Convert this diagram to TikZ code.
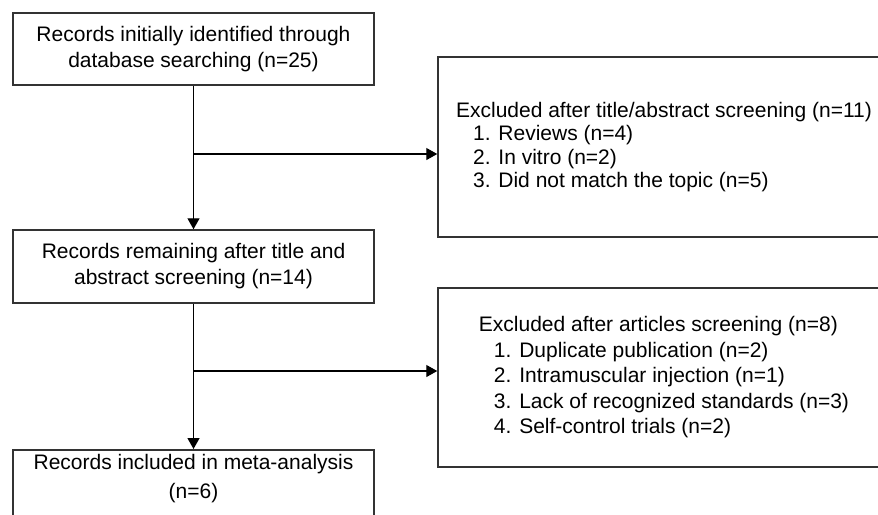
\documentclass[tikz,border=0pt]{standalone}
\usepackage{fontspec}
\setmainfont{Liberation Sans}
\usepackage{tikz}
\usetikzlibrary{arrows.meta}

\begin{document}
\begin{tikzpicture}[x=1pt, y=-1pt, >={Triangle[length=11pt, width=12pt]}, line width=1.3pt]

\useasboundingbox (0,0) rectangle (878,514);
\clip (0,0) rectangle (878,514);

\begin{scope}[every node/.style={rectangle, draw=black!80, line width=1.5pt, minimum width=361pt, align=center, font=\fontsize{21}{26}\selectfont}]
  \node[minimum height=72pt] (rec1) at (193.5,49) {Records initially identified through\\database searching (n=25)};
  \node[minimum height=73pt] (rec2) at (193.5,266.5) {Records remaining after title and\\abstract screening (n=14)};
  \node[anchor=north, inner ysep=5pt, text depth=24pt, font=\fontsize{21}{29}\selectfont] (rec3) at (193.5,449) {Records included in meta-analysis\\(n=6)};
\end{scope}

\begin{scope}[every node/.style={rectangle, draw=black!80, line width=1.5pt, minimum width=452pt, align=left}]
  \node[minimum height=180pt, font=\fontsize{21}{23.5}\selectfont] (exc1) at (664,147) {Excluded after title/abstract screening (n=11)\\
    \hspace*{17pt}1. Reviews (n=4)\\
    \hspace*{17pt}2. In vitro (n=2)\\
    \hspace*{17pt}3. Did not match the topic (n=5)};
  \node[minimum height=179pt, font=\fontsize{21}{25.5}\selectfont] (exc2) at (664,377.5) {Excluded after articles screening (n=8)\\
    \hspace*{15pt}1. Duplicate publication (n=2)\\
    \hspace*{15pt}2. Intramuscular injection (n=1)\\
    \hspace*{15pt}3. Lack of recognized standards (n=3)\\
    \hspace*{15pt}4. Self-control trials (n=2)};
\end{scope}

\coordinate (b1) at (193.5,154);
\coordinate (b2) at (193.5,371);

\draw[->] (rec1) -- (rec2);
\draw[->] (b1) -- (b1 -| exc1.west);
\draw[->] (rec2) -- (rec3);
\draw[->] (b2) -- (b2 -| exc2.west);

\end{tikzpicture}
\end{document}
